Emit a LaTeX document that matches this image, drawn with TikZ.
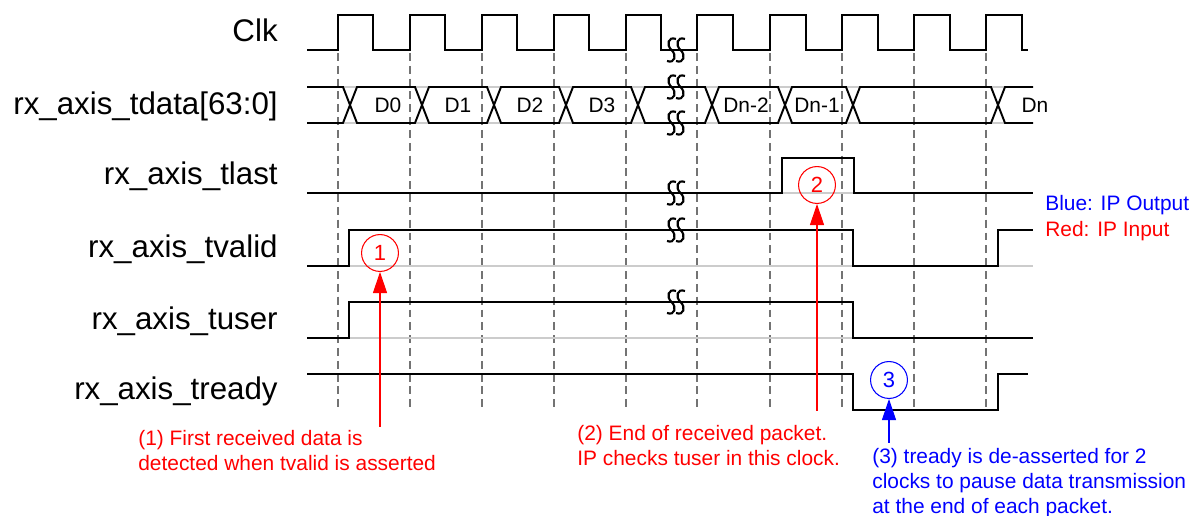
\documentclass[tikz,border=0pt]{standalone}
\usepackage{fontspec}
\setmainfont{Liberation Sans}
\usetikzlibrary{arrows.meta}
\begin{document}
\begin{tikzpicture}[x=0.02cm,y=-0.02cm,
  sig/.style={line width=1.1pt,line join=miter},
  ghost/.style={gray!40,line width=0.6pt},
  guide/.style={black!55,line width=0.9pt,dash pattern=on 4.5pt off 2.8pt},
  lbl/.style={anchor=base east,inner sep=0pt,font=\fontsize{17.8}{20}\selectfont},
  dat/.style={inner sep=0pt,font=\fontsize{11.9}{14}\selectfont},
  num/.style={circle,draw,line width=0.6pt,minimum size=21pt,inner sep=0pt,font=\fontsize{12.5}{14}\selectfont},
  note/.style={anchor=north west,align=left,inner sep=0pt,font=\fontsize{11.9}{14.2}\selectfont},
  legend/.style={anchor=base west,inner sep=0pt,font=\fontsize{11.9}{14}\selectfont},
  callarrow/.style={line width=0.6pt,-{Triangle[length=12pt,width=8pt]}},
  brk/.pic={\foreach \sq in {0,9}
    \draw[line width=1.2pt] (\sq+9,-11) .. controls (\sq+1,-14) and (\sq-1,-5) .. (\sq+4.5,0)
      .. controls (\sq+10,5) and (\sq+8,14) .. (\sq,11);}]
  \useasboundingbox (0,0) rectangle (1193,516);
  % signal names
  \node[lbl] (clk)    at (278,42)  {Clk};
  \node[lbl] (tdata)  at (278,115) {rx\_axis\_tdata[63:0]};
  \node[lbl] (tlast)  at (278,185) {rx\_axis\_tlast};
  \node[lbl] (tvalid) at (278,258) {rx\_axis\_tvalid};
  \node[lbl] (tuser)  at (278,330) {rx\_axis\_tuser};
  \node[lbl] (tready) at (278,400) {rx\_axis\_tready};
  % clock edges
  \foreach \t in {338,410,482,554,626,697,770,842,914,986}
    \draw[guide] (\t,53) -- (\t,410);
  % clock
  \draw[sig] (307,50) \foreach \t in {338,410,482,554,626}
    { -- (\t,50) -- (\t,15) -- (\t+35,15) -- (\t+35,50) } -- (669,50);
  \draw[sig] (669,50) \foreach \t in {697,770,842,914,986}
    { -- (\t,50) -- (\t,15) -- (\t+36,15) -- (\t+36,50) } -- (1028,50);
  % data bus
  \draw[ghost] (307,87) -- (1033,87) (307,123) -- (1033,123);
  \draw[sig] (307,87) -- (343,87) -- (350,105) -- (343,123) -- (307,123);
  \foreach \a/\b in {350/422,422/494,494/566,566/638,638/712,712/785,785/853,853/998}
    \draw[sig] (\a,105) -- (\a+7,87) -- (\b-7,87) -- (\b,105) -- (\b-7,123) -- (\a+7,123) -- cycle;
  \draw[sig] (1033,87) -- (1005,87) -- (998,105) -- (1005,123) -- (1033,123);
  \node[dat] (d0)  at (388,105) {D0};
  \node[dat] (d1)  at (458,105) {D1};
  \node[dat] (d2)  at (530,105) {D2};
  \node[dat] (d3)  at (602,105) {D3};
  \node[dat] (dn2) at (746,105) {Dn-2};
  \node[dat] (dn1) at (817,105) {Dn-1};
  \node[dat] (dn)  at (1035,105) {Dn};
  % tlast, tvalid, tuser, tready
  \draw[ghost] (782,193) -- (854,193);
  \draw[sig] (307,193) -- (782,193) -- (782,158) -- (854,158) -- (854,193) -- (1033,193);
  \draw[ghost] (349,266) -- (1033,266);
  \draw[sig] (307,266) -- (349,266) -- (349,230) -- (853,230) -- (853,266) -- (998,266) -- (998,230) -- (1033,230);
  \draw[ghost] (349,338) -- (853,338);
  \draw[sig] (307,338) -- (349,338) -- (349,302) -- (853,302) -- (853,338) -- (1033,338);
  \draw[sig] (307,374) -- (853,374) -- (853,410) -- (998,410) -- (998,374) -- (1028,374);
  % time breaks
  \foreach \y in {50,87,123,193,230,302}
    \pic at (667,\y) {brk};
  % callouts
  \node[num,red]  (c1) at (380,253) {1};
  \node[num,red]  (c2) at (817,185) {2};
  \node[num,blue] (c3) at (889,380) {3};
  \coordinate (a1) at (380,427);
  \coordinate (a2) at (817,411);
  \coordinate (a3) at (889,443);
  \draw[callarrow,red]  (a1) -- (c1);
  \draw[callarrow,red]  (a2) -- (c2);
  \draw[callarrow,blue] (a3) -- (c3);
  \node[note,red]  (n1) at (138,430) {(1) First received data is\\detected when tvalid is asserted};
  \node[note,red]  (n2) at (577,425) {(2) End of received packet.\\IP checks tuser in this clock.};
  \node[note,blue] (n3) at (872,448) {(3) tready is de-asserted for 2\\clocks to pause data transmission\\at the end of each packet.};
  % legend
  \node[legend,blue] (lgout) at (1045,211) {Blue: IP Output};
  \node[legend,red]  (lgin)  at (1045,237) {Red: IP Input};
\end{tikzpicture}
\end{document}
